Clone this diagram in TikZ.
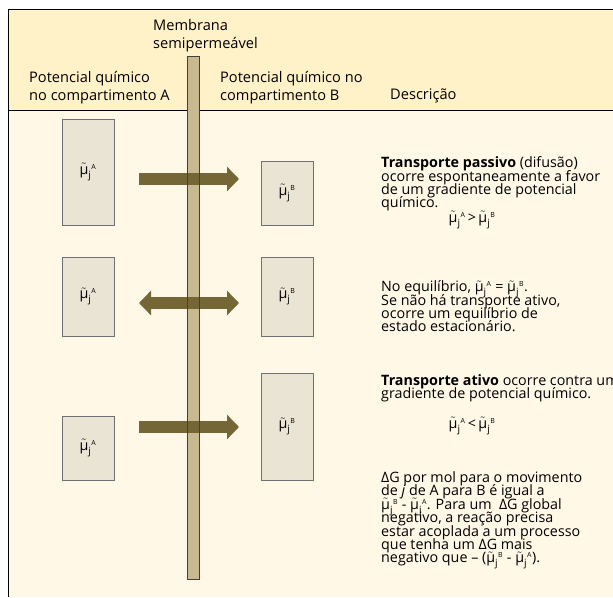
\documentclass[tikz,border=0pt]{standalone}
\usepackage{amsmath}
\usepackage{fontspec}
\setmainfont{Open Sans}
\usetikzlibrary{arrows.meta}
\definecolor{hdr}{HTML}{FFF1C8}
\definecolor{bodyc}{HTML}{FFF8E7}
\definecolor{memb}{HTML}{C8B991}
\definecolor{arrc}{HTML}{756636}
\definecolor{boxf}{HTML}{E9E4D4}
\definecolor{boxd}{HTML}{707070}
\newcommand\muj[1]{$\tilde{\text{μ}}_{\text{j}}{}^{\text{\scriptsize #1}}$}
\newcommand\desctextfont{\fontsize{14.3}{13.4}\selectfont\lineskiplimit -20pt\relax}
\newcommand\headtextfont{\fontsize{14.6}{18}\selectfont\lineskiplimit -20pt\relax}
\tikzset{
  txt/.style={inner sep=0pt, align=left, anchor=north west, font=\desctextfont},
  htxt/.style={inner sep=0pt, align=left, anchor=north west, font=\headtextfont},
  ftxt/.style={inner sep=0pt, font=\desctextfont},
  potbox/.style={draw=boxd, fill=boxf, line width=0.8pt, minimum width=52pt, inner sep=0pt, font=\desctextfont},
  bigarrow/.style={arrc, line width=12pt, -{Triangle[width=24pt,length=12pt]}},
  dblarrow/.style={arrc, line width=12pt, {Triangle[width=24pt,length=12pt]}-{Triangle[width=24pt,length=12pt]}}
}
\begin{document}
\begin{tikzpicture}[x=1pt,y=-1pt]
\useasboundingbox (0,0) rectangle (613,597);
\fill[white] (0,0) rectangle (613,597);
\fill[hdr] (8,9.5) rectangle (613,110.5);
\fill[bodyc] (8,110.5) rectangle (613,597);
\draw[line width=1pt] (8,597) -- (8,9.5) -- (613,9.5);
\draw[line width=0.8pt] (8,110.5) -- (613,110.5);
% membrane
\fill[memb] (187,56) rectangle (199,579);
% header texts
\node[htxt] (hmem) at (153,19.5) {Membrana\\semipermeável};
\node[htxt] (hA) at (29,71) {Potencial químico\\no compartimento A};
\node[htxt] (hB) at (220,71) {Potencial químico no\\compartimento B};
\node[htxt] (hD) at (390,89) {Descrição};
% boxes
\node[potbox, minimum height=106pt] (A1) at (88,172) {\muj{A}};
\node[potbox, minimum height=64pt] (B1) at (287,193) {\muj{B}};
\node[potbox, minimum height=79pt] (A2) at (88,296.5) {\muj{A}};
\node[potbox, minimum height=79pt] (B2) at (287,296.5) {\muj{B}};
\node[potbox, minimum height=64pt] (A3) at (88,448) {\muj{A}};
\node[potbox, minimum height=107pt] (B3) at (287,426.5) {\muj{B}};
% arrows
\coordinate (r1l) at (139,179); \coordinate (r1r) at (239,179);
\coordinate (r2l) at (139,303); \coordinate (r2r) at (239,303);
\coordinate (r3l) at (139,427); \coordinate (r3r) at (239,427);
\draw[bigarrow] (r1l) -- (r1r);
\draw[dblarrow] (r2l) -- (r2r);
\draw[bigarrow] (r3l) -- (r3r);
\draw[line width=0.9pt, draw=black!75] (187,56) rectangle (199,579);
% descriptions
\node[txt] (d1) at (381,156.5) {\textbf{Transporte passivo} (difusão)\\ocorre espontaneamente a favor\\de um gradiente de potencial\\químico.};
\node[ftxt] (f1) at (472,220) {\muj{A}\,>\,\muj{B}};
\node[txt] (d2) at (381,280.5) {No equilíbrio, \muj{A} = \muj{B}.\\Se não há transporte ativo,\\ocorre um equilíbrio de\\estado estacionário.};
\node[txt] (d3) at (381,374) {\textbf{Transporte ativo} ocorre contra um\\gradiente de potencial químico.};
\node[ftxt] (f2) at (472,426) {\muj{A}\,<\,\muj{B}};
\node[txt] (d4) at (381,471.5) {ΔG por mol para o movimento\\de \textit{j} de A para B é igual a\\\muj{B} - \muj{A}. Para um~ ΔG global\\negativo, a reação precisa\\estar acoplada a um processo\\que tenha um ΔG mais\\negativo que – (\muj{B} - \muj{A}).};
\end{tikzpicture}
\end{document}
